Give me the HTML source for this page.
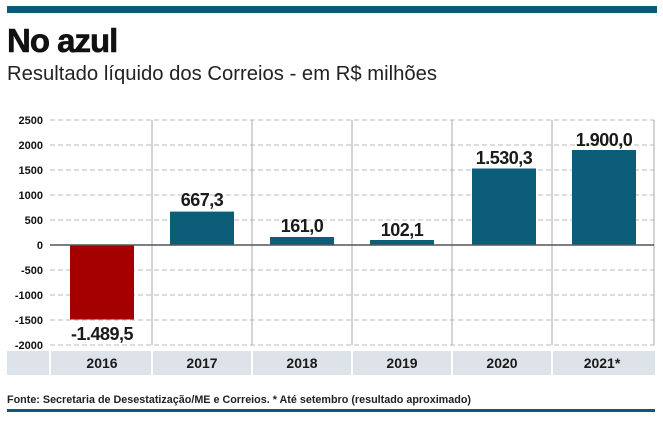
<!DOCTYPE html>
<html><head><meta charset="utf-8"><style>
body{margin:0;background:#fff;width:663px;height:422px;overflow:hidden}
svg{display:block}
</style></head><body>
<svg width="663" height="422" xmlns="http://www.w3.org/2000/svg" font-family="Liberation Sans, sans-serif">
<rect x="7" y="6" width="650" height="7" fill="#0d5a78"/>
<text x="7" y="52" font-size="33" font-weight="bold" fill="#111" stroke="#111" stroke-width="0.6" style="letter-spacing:-1px">No azul</text>
<text x="7" y="80" font-size="20" fill="#222" textLength="430" lengthAdjust="spacingAndGlyphs">Resultado líquido dos Correios - em R$ milhões</text>
<g stroke="#bbb" stroke-dasharray="5,3" stroke-width="1">
<line x1="50" x2="654" y1="120" y2="120"/><line x1="50" x2="654" y1="145" y2="145"/>
<line x1="50" x2="654" y1="170" y2="170"/><line x1="50" x2="654" y1="195" y2="195"/>
<line x1="50" x2="654" y1="220" y2="220"/><line x1="50" x2="654" y1="270" y2="270"/>
<line x1="50" x2="654" y1="295" y2="295"/><line x1="50" x2="654" y1="320" y2="320"/>
<line x1="50" x2="654" y1="345" y2="345"/>
</g>
<g stroke="#aaa" stroke-width="1">
<line x1="152" x2="152" y1="120" y2="345"/><line x1="252" x2="252" y1="120" y2="345"/>
<line x1="352" x2="352" y1="120" y2="345"/><line x1="452" x2="452" y1="120" y2="345"/>
<line x1="552" x2="552" y1="120" y2="345"/><line x1="654" x2="654" y1="120" y2="345"/>
</g>
<rect x="70" y="245" width="64" height="74.5" fill="#a50000"/>
<g fill="#0b5d78">
<rect x="170" y="211.6" width="64" height="33.4"/>
<rect x="270" y="237" width="64" height="8"/>
<rect x="370" y="240" width="64" height="5"/>
<rect x="472" y="168.5" width="64" height="76.5"/>
<rect x="572" y="150" width="64" height="95"/>
</g>
<line x1="50" x2="654" y1="245" y2="245" stroke="#555" stroke-width="1.5"/>
<g font-size="18" font-weight="bold" fill="#1a1a1a" text-anchor="middle" style="letter-spacing:-0.5px">
<text x="102" y="340">-1.489,5</text>
<text x="202" y="206">667,3</text>
<text x="302" y="232">161,0</text>
<text x="402" y="236">102,1</text>
<text x="504" y="164">1.530,3</text>
<text x="604" y="146">1.900,0</text>
</g>
<g font-size="11" font-weight="bold" fill="#111" text-anchor="end">
<text x="43" y="124">2500</text><text x="43" y="149">2000</text><text x="43" y="174">1500</text>
<text x="43" y="199">1000</text><text x="43" y="224">500</text><text x="43" y="249">0</text>
<text x="43" y="274">-500</text><text x="43" y="299">-1000</text><text x="43" y="324">-1500</text>
<text x="43" y="349">-2000</text>
</g>
<rect x="7" y="351" width="648" height="24" fill="#dde3e8"/>
<g stroke="#fff" stroke-width="2">
<line x1="50" x2="50" y1="351" y2="375"/><line x1="152" x2="152" y1="351" y2="375"/>
<line x1="252" x2="252" y1="351" y2="375"/><line x1="352" x2="352" y1="351" y2="375"/>
<line x1="452" x2="452" y1="351" y2="375"/><line x1="552" x2="552" y1="351" y2="375"/>
</g>
<g font-size="14" font-weight="bold" fill="#1a1a1a" text-anchor="middle">
<text x="102" y="368">2016</text><text x="202" y="368">2017</text><text x="302" y="368">2018</text>
<text x="402" y="368">2019</text><text x="502" y="368">2020</text><text x="602" y="368">2021*</text>
</g>
<text x="7" y="403" font-size="11" font-weight="bold" fill="#222" textLength="464" lengthAdjust="spacingAndGlyphs">Fonte: Secretaria de Desestatização/ME e Correios. * Até setembro (resultado aproximado)</text>
<rect x="7" y="409" width="648" height="3" fill="#0d5a78"/>
</svg>
</body></html>
